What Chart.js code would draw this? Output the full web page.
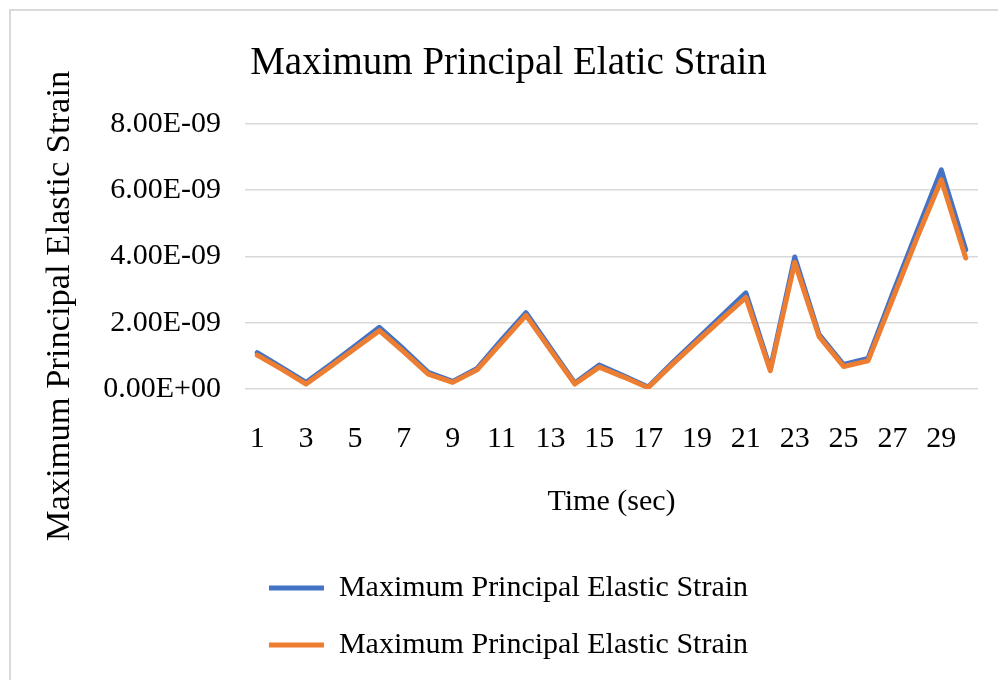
<!DOCTYPE html>
<html>
<head>
<meta charset="utf-8">
<script src="https://cdn.jsdelivr.net/npm/chart.js@4/dist/chart.umd.min.js"></script>
<style>
html,body{margin:0;padding:0;background:#fff;}
#wrap{position:relative;width:998px;height:680px;overflow:hidden;}
#frame{position:absolute;left:9px;top:9px;width:1000px;height:700px;border:2px solid #d9d9d9;}
canvas{position:absolute;left:0;top:0;}
</style>
</head>
<body>
<div id="wrap"><div id="frame"></div><canvas id="c" width="998" height="680"></canvas></div>
<script>
const categories = ['1','2','3','4','5','6','7','8','9','10','11','12','13','14','15','16','17','18','19','20','21','22','23','24','25','26','27','28','29','30'];
const seriesBlue = [1.1e-9,0.65e-9,0.2e-9,0.74e-9,1.3e-9,1.86e-9,1.2e-9,0.5e-9,0.23e-9,0.62e-9,1.48e-9,2.3e-9,1.24e-9,0.18e-9,0.72e-9,0.4e-9,0.06e-9,0.8e-9,1.5e-9,2.2e-9,2.9e-9,0.6e-9,3.98e-9,1.64e-9,0.74e-9,0.92e-9,2.86e-9,4.75e-9,6.61e-9,4.2e-9];
const seriesOrange = [1.02e-9,0.6e-9,0.15e-9,0.68e-9,1.22e-9,1.76e-9,1.12e-9,0.45e-9,0.2e-9,0.58e-9,1.4e-9,2.22e-9,1.18e-9,0.15e-9,0.66e-9,0.36e-9,0.04e-9,0.75e-9,1.43e-9,2.1e-9,2.76e-9,0.55e-9,3.82e-9,1.58e-9,0.68e-9,0.85e-9,2.7e-9,4.55e-9,6.31e-9,3.95e-9];
const seriesNames = ['Maximum Principal Elastic Strain','Maximum Principal Elastic Strain'];
const yTickValues = [0, 2e-9, 4e-9, 6e-9, 8e-9];
const chartTitle = 'Maximum Principal Elatic Strain';
const xTitle = 'Time (sec)';
const yTitle = 'Maximum Principal Elastic Strain';

const FONT = "'Liberation Serif', 'Times New Roman', serif";

function fmtExp(v){
  if (v === 0) return '0.00E+00';
  let s = v.toExponential(2);
  let [m, e] = s.split('e');
  let sign = e[0] === '-' ? '-' : '+';
  let d = e.replace(/^[+-]/,'');
  if (d.length < 2) d = '0' + d;
  return m + 'E' + sign + d;
}

const yTitlePlugin = {
  id: 'yTitlePlugin',
  afterDraw(chart){
    const ctx = chart.ctx;
    ctx.save();
    ctx.translate(60, 306);
    ctx.rotate(-Math.PI/2);
    ctx.font = "34.5px " + FONT;
    ctx.fillStyle = '#000';
    ctx.textAlign = 'center';
    ctx.textBaseline = 'middle';
    ctx.fillText(yTitle, 0, 0);
    ctx.restore();
  }
};

new Chart(document.getElementById('c'), {
  type: 'line',
  data: {
    labels: categories,
    datasets: [
      {label: seriesNames[0], data: seriesBlue, borderColor: '#4472C4', backgroundColor: '#4472C4', borderWidth: 5, pointRadius: 0, tension: 0, borderCapStyle: 'round', borderJoinStyle: 'round', order: 1, pointStyle: 'line'},
      {label: seriesNames[1], data: seriesOrange, borderColor: '#ED7D31', backgroundColor: '#ED7D31', borderWidth: 5, pointRadius: 0, tension: 0, borderCapStyle: 'round', borderJoinStyle: 'round', order: 0, pointStyle: 'line'}
    ]
  },
  options: {
    responsive: false,
    animation: false,
    layout: {padding: {left: 34, right: 15, top: 10, bottom: 10}},
    plugins: {
      title: {display: true, text: chartTitle, color: '#000', font: {family: FONT, size: 39, weight: 'normal'}, padding: {top: 30, bottom: 37}},
      legend: {
        position: 'bottom',
        labels: {usePointStyle: true, pointStyleWidth: 55, boxHeight: 30, color: '#000', padding: 27, font: {family: FONT, size: 30},
          sort: (a, b) => a.datasetIndex - b.datasetIndex}
      },
      tooltip: {enabled: false}
    },
    scales: {
      x: {
        offset: true,
        grid: {display: false, drawTicks: false},
        border: {display: false},
        afterFit(scale){ scale.height = 157; },
        ticks: {autoSkip: false, maxRotation: 0, padding: 32, color: '#000', font: {family: FONT, size: 30},
          callback: function(val, idx){ return idx % 2 === 0 ? categories[idx] : ''; }},
        title: {display: true, text: xTitle, color: '#000', font: {family: FONT, size: 30}, padding: {top: 29, bottom: 26}}
      },
      y: {
        min: 0, max: 8e-9,
        afterBuildTicks(scale){ scale.ticks = yTickValues.map(v => ({value: v})); },
        afterFit(scale){ scale.width = 211; },
        grid: {color: '#d9d9d9', lineWidth: 1.5, drawTicks: false},
        border: {display: false},
        ticks: {padding: 24, color: '#000', font: {family: FONT, size: 30}, callback: v => fmtExp(v)}
      }
    }
  },
  plugins: [yTitlePlugin]
});
</script>
</body>
</html>
